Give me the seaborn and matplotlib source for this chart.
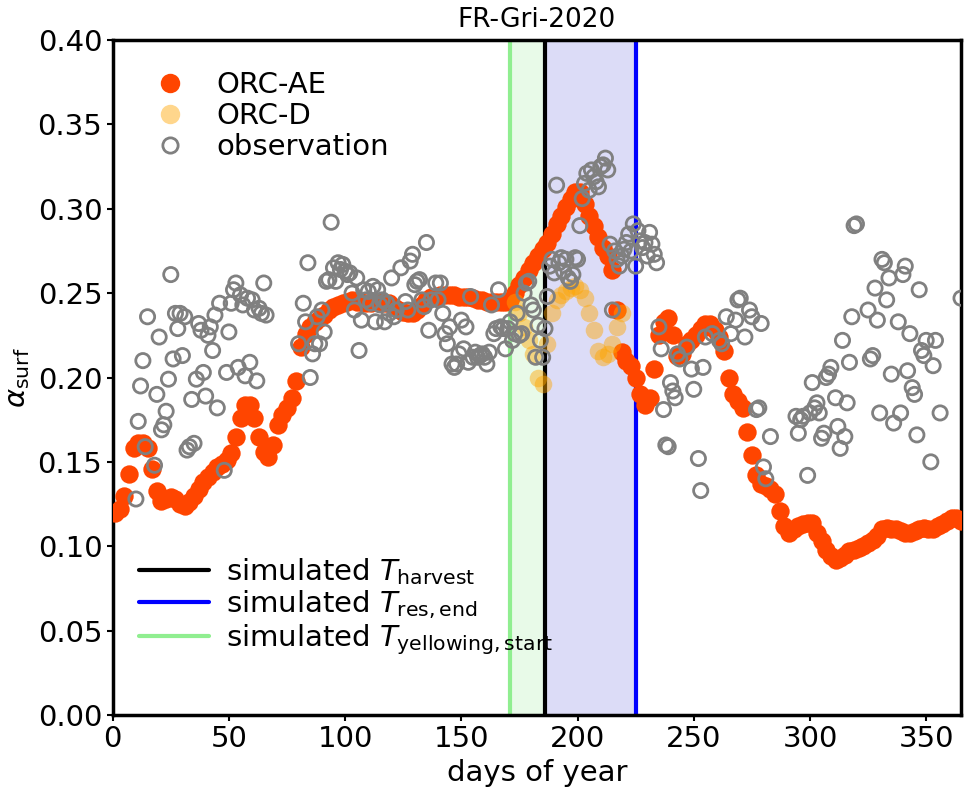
import numpy as np
import pandas as pd
import matplotlib
matplotlib.use("Agg")
import matplotlib.pyplot as plt
from matplotlib.lines import Line2D
import seaborn as sns

# ---------------- data ----------------
title = "FR-Gri-2020"
t_yellow_start = 171
t_harvest = 186
t_res_end = 225

ae_days = list(range(1, 366, 2))
ae_vals = [
    0.120, 0.122, 0.130, 0.143, 0.158, 0.161, 0.161, 0.158, 0.146, 0.133,
    0.127, 0.128, 0.129, 0.128, 0.125, 0.124, 0.126, 0.130, 0.134, 0.138,
    0.141, 0.144, 0.147, 0.149, 0.151, 0.155, 0.165, 0.176, 0.184, 0.184,
    0.176, 0.165, 0.156, 0.153, 0.160, 0.172, 0.178, 0.182, 0.188, 0.198,
    0.218, 0.226, 0.230, 0.233, 0.235, 0.237, 0.240, 0.242, 0.243, 0.244,
    0.245, 0.246, 0.245, 0.245, 0.244, 0.244, 0.245, 0.245, 0.244, 0.244,
    0.242, 0.240, 0.239, 0.238, 0.238, 0.240, 0.243, 0.246, 0.248, 0.248,
    0.249, 0.249, 0.249, 0.249, 0.248, 0.248, 0.248, 0.247, 0.246, 0.246,
    0.245, 0.245, 0.245, 0.245, 0.245, 0.246, 0.250, 0.255, 0.259, 0.264,
    0.268, 0.272, 0.276, 0.280, 0.285, 0.291, 0.296, 0.301, 0.306, 0.310,
    0.310, 0.303, 0.296, 0.290, 0.283, 0.277, 0.272, 0.264, 0.240, 0.215,
    0.210, 0.207, 0.200, 0.190, 0.184, 0.188, 0.205, 0.225, 0.233, 0.235,
    0.225, 0.213, 0.214, 0.220, 0.222, 0.225, 0.229, 0.232, 0.232, 0.228,
    0.224, 0.216, 0.200, 0.190, 0.186, 0.182, 0.168, 0.154, 0.142, 0.137,
    0.136, 0.134, 0.131, 0.121, 0.112, 0.108, 0.110, 0.112, 0.113, 0.114,
    0.114, 0.108, 0.103, 0.098, 0.094, 0.092, 0.093, 0.095, 0.097, 0.098,
    0.099, 0.100, 0.102, 0.104, 0.106, 0.110, 0.111, 0.110, 0.110, 0.109,
    0.108, 0.108, 0.109, 0.110, 0.111, 0.110, 0.110, 0.112, 0.113, 0.115,
    0.117, 0.117, 0.115,
]

d_days = list(range(173, 221, 2))
d_vals = [
    0.245, 0.238, 0.230, 0.222, 0.214, 0.200, 0.196, 0.220, 0.238, 0.246,
    0.249, 0.251, 0.253, 0.254, 0.252, 0.247, 0.238, 0.228, 0.216, 0.212,
    0.214, 0.220, 0.230, 0.238,
]

obs_days = [
    10, 11, 12, 13, 14, 15, 18, 19, 20, 21, 22, 23, 24, 25, 26, 27, 28, 29, 30, 31,
    32, 33, 34, 35, 36, 37, 38, 39, 40, 41, 42, 43, 44, 45, 46, 48, 49, 50, 51, 52,
    53, 54, 55, 56, 57, 58, 59, 60, 61, 62, 63, 64, 65, 66,
    80, 82, 83, 84, 85, 86, 87, 88, 89, 90, 91, 92, 93, 94, 95, 96, 97, 98, 99, 100,
    101, 102, 103, 104, 105, 106, 107,
    108, 109, 110, 111, 112, 113, 114, 115, 116, 117, 118, 119, 120, 121, 122, 124,
    126, 127, 128, 129, 130, 131, 132, 133, 134, 135, 136,
    137, 139, 140, 141, 142, 143, 144, 145, 146, 147, 148, 149, 150, 151, 152, 153,
    154, 155, 156, 157, 158, 159, 160, 161, 162, 163, 164, 165, 166, 167, 168, 169, 170,
    171, 172, 173, 174, 175, 176, 177, 178, 179, 180, 181, 182, 183, 184, 185, 186,
    187, 188, 189, 190, 191, 192, 193, 194, 195, 196, 197, 198, 199,
    200, 201, 202, 203, 204, 205, 206, 207, 208, 209, 210, 211, 212, 213, 214, 215,
    216, 217, 218, 219, 220, 221, 222, 223, 224, 225, 226, 227, 228, 229, 230, 231,
    232, 233, 234,
    235, 236, 237, 238, 239, 240, 241, 242, 243, 244, 247, 249, 250, 252, 253, 254,
    255, 258, 261, 262, 264, 266, 268, 269, 270, 272, 274, 275, 277, 278, 279, 280,
    281, 283,
    294, 295, 296, 297, 299, 300, 301, 302, 303, 304, 305, 306, 307, 308, 309, 311,
    312, 313, 314, 315, 316, 317, 318, 319, 320,
    325, 326, 327, 328, 329, 330, 331, 332, 333, 334, 335, 336, 338, 339, 340, 341,
    342, 343, 344, 345, 346, 347, 348, 349, 350, 352, 353, 354, 356, 365,
]
obs_vals = [
    0.128, 0.174, 0.195, 0.210, 0.159, 0.236, 0.148, 0.190, 0.224, 0.169, 0.172, 0.180, 0.199, 0.261, 0.211, 0.238, 0.229, 0.238, 0.213, 0.236,
    0.157, 0.159, 0.187, 0.161, 0.199, 0.232, 0.228, 0.203, 0.189, 0.225, 0.230, 0.216, 0.237, 0.182, 0.244, 0.145, 0.203, 0.227, 0.244, 0.252,
    0.256, 0.206, 0.249, 0.243, 0.201, 0.247, 0.209, 0.246, 0.240, 0.198, 0.241, 0.238, 0.256, 0.237,
    0.220, 0.244, 0.233, 0.268, 0.200, 0.214, 0.220, 0.236, 0.220, 0.240, 0.227, 0.257, 0.258, 0.292, 0.265, 0.257, 0.268, 0.264, 0.267, 0.263,
    0.261, 0.262, 0.250, 0.240, 0.259, 0.216, 0.234,
    0.252, 0.246, 0.251, 0.244, 0.254, 0.233, 0.252, 0.243, 0.246, 0.233, 0.244, 0.238, 0.259, 0.236, 0.240, 0.265,
    0.245, 0.240, 0.269, 0.273, 0.255, 0.257, 0.258, 0.246, 0.242, 0.280, 0.228,
    0.246, 0.256, 0.246, 0.256, 0.238, 0.226, 0.220, 0.230, 0.208, 0.206, 0.208, 0.214, 0.234, 0.217, 0.230, 0.209,
    0.248, 0.212, 0.215, 0.212, 0.213, 0.214, 0.212, 0.208, 0.215, 0.243, 0.226, 0.229, 0.252, 0.230, 0.229, 0.217, 0.229,
    0.233, 0.222, 0.226, 0.238, 0.225, 0.226, 0.250, 0.256, 0.257, 0.243, 0.240, 0.212, 0.231, 0.222, 0.212, 0.229,
    0.248, 0.266, 0.270, 0.262, 0.314, 0.268, 0.271, 0.263, 0.270, 0.259, 0.257, 0.261, 0.271,
    0.270, 0.290, 0.306, 0.315, 0.321, 0.311, 0.323, 0.319, 0.316, 0.313, 0.325, 0.326, 0.330, 0.323, 0.279, 0.240,
    0.275, 0.270, 0.266, 0.272, 0.276, 0.280, 0.285, 0.275, 0.291, 0.266, 0.287, 0.281, 0.277, 0.280, 0.272, 0.286,
    0.279, 0.273, 0.268,
    0.230, 0.217, 0.181, 0.160, 0.159, 0.197, 0.192, 0.188, 0.214, 0.211, 0.218, 0.205, 0.193, 0.152, 0.133, 0.206,
    0.224, 0.226, 0.222, 0.220, 0.236, 0.226, 0.234, 0.246, 0.247, 0.224, 0.240, 0.236, 0.181, 0.182, 0.232, 0.147,
    0.140, 0.165,
    0.177, 0.167, 0.175, 0.177, 0.142, 0.179, 0.197, 0.182, 0.185, 0.179, 0.164, 0.167, 0.200, 0.202, 0.206, 0.188,
    0.171, 0.158, 0.222, 0.165, 0.185, 0.209, 0.236, 0.290, 0.291,
    0.240, 0.211, 0.213, 0.253, 0.234, 0.179, 0.270, 0.268, 0.246, 0.259, 0.202, 0.173, 0.233, 0.179, 0.261, 0.266,
    0.204, 0.226, 0.194, 0.190, 0.166, 0.252, 0.216, 0.213, 0.222, 0.150, 0.207, 0.222, 0.179, 0.247,
]

x_ticks = [0, 50, 100, 150, 200, 250, 300, 350]
y_ticks = [0.00, 0.05, 0.10, 0.15, 0.20, 0.25, 0.30, 0.35, 0.40]

# ---------------- plot ----------------
sns.set_style("ticks")
plt.rcParams["font.family"] = ["DejaVu Sans"]
plt.rcParams["mathtext.fontset"] = "dejavusans"
for k in ["text.color", "axes.labelcolor", "xtick.color", "ytick.color"]:
    plt.rcParams[k] = "black"

ae_df = pd.DataFrame({"day": ae_days, "alb": ae_vals})
d_df = pd.DataFrame({"day": d_days, "alb": d_vals})
obs_df = pd.DataFrame({"day": obs_days, "alb": obs_vals})

fig = plt.figure(figsize=(9.68, 7.92), dpi=100)
ax = fig.add_axes([0.1164, 0.0972, 0.8764, 0.8523])

c_ae = "#FF4500"
c_d = "#FFA500"
c_obs = "#808080"
c_yel = "#90EE90"
c_harv = "black"
c_res = "#0000FF"

ax.axvspan(t_yellow_start, t_harvest, color="#E8FAE8", zorder=0, lw=0)
ax.axvspan(t_harvest, t_res_end, color="#DCDCF7", zorder=0, lw=0)
ax.axvline(t_yellow_start, color=c_yel, lw=3, zorder=1)
ax.axvline(t_harvest, color=c_harv, lw=3, zorder=1)
ax.axvline(t_res_end, color=c_res, lw=3, zorder=1)

sns.scatterplot(data=ae_df, x="day", y="alb", ax=ax, color=c_ae, s=175,
                linewidth=0, zorder=3, legend=False)
sns.scatterplot(data=d_df, x="day", y="alb", ax=ax, color=c_d, s=160,
                linewidth=0, alpha=0.45, zorder=4, legend=False)
sns.scatterplot(data=obs_df, x="day", y="alb", ax=ax, facecolors="none",
                edgecolor=c_obs, s=105, linewidth=2, zorder=5, legend=False)

ax.set_xlim(0, 365)
ax.set_ylim(0, 0.40)
ax.set_xticks(x_ticks)
ax.set_yticks(y_ticks)
ax.set_yticklabels([f"{v:.2f}" for v in y_ticks])
ax.tick_params(axis="both", labelsize=21, width=1.5, length=4, colors="black")
for sp in ax.spines.values():
    sp.set_linewidth(2.5)
    sp.set_color("black")

ax.set_xlabel("days of year", fontsize=21, labelpad=4)
ax.set_ylabel(r"$\alpha_{\mathrm{surf}}$", fontsize=21, labelpad=4)
ax.set_title(title, fontsize=19, pad=9)

h1 = [
    Line2D([], [], marker="o", ls="", color=c_ae, markersize=14, markeredgewidth=0, label="ORC-AE"),
    Line2D([], [], marker="o", ls="", color=c_d, alpha=0.45, markersize=14, markeredgewidth=0, label="ORC-D"),
    Line2D([], [], marker="o", ls="", markerfacecolor="none", markeredgecolor=c_obs,
           markersize=11, markeredgewidth=2, label="observation"),
]
leg1 = ax.legend(handles=h1, loc="upper left", fontsize=21, frameon=False,
                 bbox_to_anchor=(0.012, 0.98), handletextpad=0.6, labelspacing=0.1,
                 borderaxespad=0.2)
ax.add_artist(leg1)

h2 = [
    Line2D([], [], color=c_harv, lw=3, label=r"simulated $T_{\mathrm{harvest}}$"),
    Line2D([], [], color=c_res, lw=3, label=r"simulated $T_{\mathrm{res,end}}$"),
    Line2D([], [], color=c_yel, lw=3, label=r"simulated $T_{\mathrm{yellowing,start}}$"),
]
ax.legend(handles=h2, loc="lower left", fontsize=21, frameon=False,
          bbox_to_anchor=(0.01, 0.06), handlelength=2.4, handletextpad=0.6,
          labelspacing=0.05, borderaxespad=0.2)

fig.savefig("out.png", dpi=100)
